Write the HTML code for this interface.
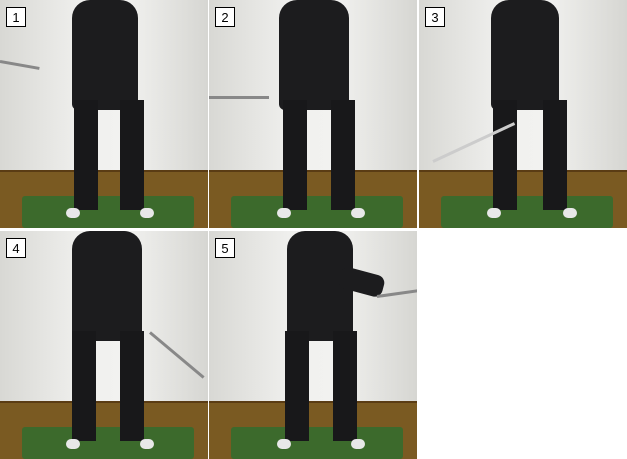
<!DOCTYPE html>
<html><head><meta charset="utf-8"><style>
body{margin:0;width:627px;height:459px;background:#fff;position:relative;overflow:hidden;font-family:"Liberation Sans",sans-serif}
.p{position:absolute;width:208px;height:228px;overflow:hidden;background:linear-gradient(90deg,#d8d8d4,#f0f0ee 40%,#f2f2f0 60%,#d6d6d2)}
.floor{position:absolute;left:0;right:0;top:172px;bottom:0;background:#7a5a22}
.base{position:absolute;left:0;right:0;top:170px;height:5px;background:#5a3c14}
.mat{position:absolute;left:22px;width:172px;top:196px;height:32px;background:#3c6a2c;border-radius:3px}
.torso{position:absolute;background:#1c1c1e;border-radius:18px 18px 6px 6px}
.leg{position:absolute;background:#18181a;width:24px}
.shoe{position:absolute;width:14px;height:10px;background:#e8e8e8;border-radius:5px}
.club{position:absolute;height:3px;background:#888;transform-origin:left center}
.lab{position:absolute;left:6px;top:7px;width:20px;height:20px;background:#fff;border:1px solid #000;font-size:13px;text-align:center;line-height:20px;box-sizing:border-box}
</style></head><body>
<div class="p" style="left:0;top:0">
<div class="base"></div><div class="floor"></div><div class="mat"></div>
<div class="torso" style="left:72px;top:0;width:66px;height:110px"></div>
<div class="leg" style="left:74px;top:100px;height:110px"></div><div class="leg" style="left:120px;top:100px;height:110px"></div>
<div class="shoe" style="left:66px;top:208px"></div><div class="shoe" style="left:140px;top:208px"></div>
<div class="club" style="left:0;top:60px;width:40px;transform:rotate(10deg)"></div>
<div class="lab">1</div></div>
<div class="p" style="left:209px;top:0">
<div class="base"></div><div class="floor"></div><div class="mat"></div>
<div class="torso" style="left:70px;top:0;width:70px;height:110px"></div>
<div class="leg" style="left:74px;top:100px;height:110px"></div><div class="leg" style="left:122px;top:100px;height:110px"></div>
<div class="shoe" style="left:68px;top:208px"></div><div class="shoe" style="left:142px;top:208px"></div>
<div class="club" style="left:0;top:96px;width:60px"></div>
<div class="lab">2</div></div>
<div class="p" style="left:419px;top:0">
<div class="base"></div><div class="floor"></div><div class="mat"></div>
<div class="torso" style="left:72px;top:0;width:68px;height:110px"></div>
<div class="leg" style="left:74px;top:100px;height:110px"></div><div class="leg" style="left:124px;top:100px;height:110px"></div>
<div class="shoe" style="left:68px;top:208px"></div><div class="shoe" style="left:144px;top:208px"></div>
<div class="club" style="left:14px;top:160px;width:90px;transform:rotate(-25deg);background:#ccc"></div>
<div class="lab">3</div></div>
<div class="p" style="left:0;top:231px">
<div class="base"></div><div class="floor"></div><div class="mat"></div>
<div class="torso" style="left:72px;top:0;width:70px;height:110px"></div>
<div class="leg" style="left:72px;top:100px;height:110px"></div><div class="leg" style="left:120px;top:100px;height:110px"></div>
<div class="shoe" style="left:66px;top:208px"></div><div class="shoe" style="left:140px;top:208px"></div>
<div class="club" style="left:150px;top:100px;width:70px;transform:rotate(40deg)"></div>
<div class="lab">4</div></div>
<div class="p" style="left:209px;top:231px">
<div class="base"></div><div class="floor"></div><div class="mat"></div>
<div class="torso" style="left:78px;top:0;width:66px;height:110px"></div>
<div class="torso" style="left:130px;top:40px;width:45px;height:22px;border-radius:8px;transform:rotate(15deg)"></div>
<div class="leg" style="left:76px;top:100px;height:110px"></div><div class="leg" style="left:124px;top:100px;height:110px"></div>
<div class="shoe" style="left:68px;top:208px"></div><div class="shoe" style="left:142px;top:208px"></div>
<div class="club" style="left:168px;top:64px;width:42px;transform:rotate(-8deg)"></div>
<div class="lab">5</div></div>
</body></html>
